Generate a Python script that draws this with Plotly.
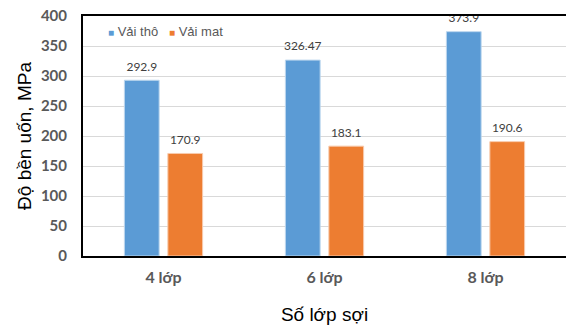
import plotly.graph_objects as go

categories = ["4 lớp", "6 lớp", "8 lớp"]
vai_tho = [292.9, 326.47, 373.9]
vai_mat = [170.9, 183.1, 190.6]
vai_tho_labels = ["292.9", "326.47", "373.9"]
vai_mat_labels = ["170.9", "183.1", "190.6"]
y_ticks = [0, 50, 100, 150, 200, 250, 300, 350, 400]
series_names = ["Vải thô", "Vải mat"]

BLUE = "#5B9BD5"
ORANGE = "#ED7D31"
GRAY = "#595959"
LABEL = "#404040"
TICK_FONT = "Lato, 'Open Sans', sans-serif"
TITLE_FONT = "'Liberation Sans', Arial, sans-serif"

series = [
    (series_names[0], vai_tho, vai_tho_labels, BLUE, "#BDD7EE", "g1"),
    (series_names[1], vai_mat, vai_mat_labels, ORANGE, "#F8CBAD", "g2"),
]

fig = go.Figure()
for name, vals, labs, color, edge, grp in series:
    fig.add_trace(go.Bar(name=name, x=categories, y=vals, offsetgroup=grp,
                         marker=dict(color=color, line=dict(color=edge, width=1)),
                         showlegend=False))
for name, vals, labs, color, edge, grp in series:
    # value labels above each bar (transparent markers set the gap above the bar top)
    fig.add_trace(go.Scatter(
        x=categories, y=vals, mode="markers+text", text=labs,
        textposition="top center", offsetgroup=grp,
        marker=dict(size=9, opacity=0), showlegend=False, hoverinfo="skip",
        textfont=dict(family=TICK_FONT, size=12, color=LABEL), cliponaxis=False,
    ))

# compact legend: small coloured squares followed by the series names
legend_text = "&nbsp;&nbsp;&nbsp;".join(
    f"<span style='color:{c}; font-size:10px'>■</span>&nbsp;<span style='color:{GRAY}'>{n}</span>"
    for n, c in [(series_names[0], BLUE), (series_names[1], ORANGE)]
)
fig.add_annotation(text=legend_text, xref="paper", yref="paper", x=0.048, y=0.975,
                   xanchor="left", yanchor="top", showarrow=False,
                   font=dict(family=TITLE_FONT, size=13, color=GRAY))

fig.update_layout(
    width=566, height=331,
    margin=dict(l=83, r=0, t=16, b=75),
    paper_bgcolor="white", plot_bgcolor="white",
    barmode="group", bargap=0.46, bargroupgap=0.2,
    scattermode="group", scattergap=0.46,
    showlegend=False,
)
fig.update_xaxes(
    showline=True, linecolor="black", linewidth=2, mirror=True,
    ticks="outside", ticklen=6, tickcolor="rgba(0,0,0,0)",
    tickfont=dict(family=TICK_FONT, size=16, color=GRAY, weight="bold"),
    title=dict(text="Số lớp sợi", font=dict(family=TITLE_FONT, size=19, color="black"), standoff=22),
)
fig.update_yaxes(
    range=[0, 400], tickvals=y_ticks,
    showline=True, linecolor="black", linewidth=2,
    showgrid=True, gridcolor="#D9D9D9", gridwidth=1, zeroline=False,
    ticks="outside", ticklen=11, tickcolor="rgba(0,0,0,0)",
    tickfont=dict(family=TICK_FONT, size=15, color=GRAY, weight="bold"),
    title=dict(text="Độ bền uốn, MPa", font=dict(family=TITLE_FONT, size=19, color="black"), standoff=4),
)

fig.write_html("out.html")
